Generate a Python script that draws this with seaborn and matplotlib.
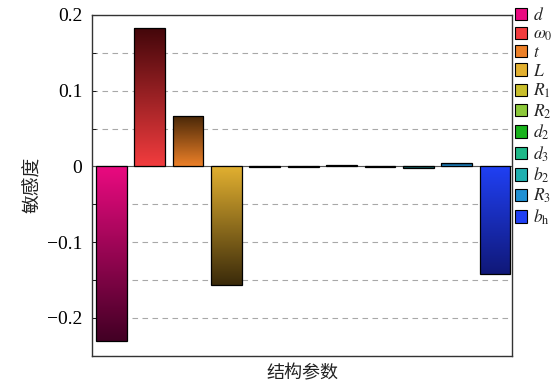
import numpy as np
import pandas as pd
import matplotlib
matplotlib.use("Agg")
import matplotlib.pyplot as plt
import matplotlib.colors as mcolors
from matplotlib.patches import Patch
from matplotlib.ticker import MultipleLocator, FuncFormatter
import seaborn as sns

# ---- data ----
params = ["d", "omega0", "t", "L", "R1", "R2", "d2", "d3", "b2", "R3", "bh"]
labels = [r"$d$", r"$\omega_0$", r"$t$", r"$L$", r"$R_1$", r"$R_2$",
          r"$d_2$", r"$d_3$", r"$b_2$", r"$R_3$", r"$b_\mathrm{h}$"]
sensitivity = [-0.231, 0.183, 0.066, -0.157, -0.001, -0.0005, 0.002, -0.0005, -0.002, 0.004, -0.142]
bright = ["#ea0a80", "#f23c3e", "#ec8028", "#e2b030", "#c8be2c", "#8cc83a",
          "#18b21c", "#1eb888", "#20b0b0", "#2090d4", "#2040f4"]
dark = ["#420024", "#42060a", "#4a2808", "#3a2a0a", "#3a380a", "#2a3a0a",
        "#083a08", "#083a2a", "#083a3a", "#082a44", "#101878"]

sns.set_theme(style="white")
plt.rcParams["font.family"] = ["Liberation Serif", "Noto Sans CJK SC"]
plt.rcParams["mathtext.fontset"] = "stix"
plt.rcParams["axes.unicode_minus"] = True

fig = plt.figure(figsize=(5.55, 3.83), dpi=100)
ax = fig.add_axes([0.166, 0.071, 0.757, 0.890])

df = pd.DataFrame({"param": params, "value": sensitivity})
sns.barplot(data=df, x="param", y="value", hue="param", palette=bright,
            legend=False, width=0.8, ax=ax, saturation=1)

# gradient fill of each bar: bright at zero, dark at the far end
for patch, c1, c2 in zip(ax.patches, bright, dark):
    x, y = patch.get_x(), patch.get_y()
    w, h = patch.get_width(), patch.get_height()
    cmap = mcolors.LinearSegmentedColormap.from_list("g", [c1, c2])
    grad = np.linspace(0, 1, 256).reshape(-1, 1)
    im = ax.imshow(grad, cmap=cmap, extent=[x, x + w, y, y + h], origin="lower",
                   aspect="auto", zorder=1.5, interpolation="bilinear")
    im.set_clip_path(patch)
    patch.set_facecolor("none")
    patch.set_edgecolor("black")
    patch.set_linewidth(0.9)
    patch.set_zorder(2)

ax.set_ylim(-0.25, 0.2)
ax.set_xlim(-0.5, 10.45)

ax.yaxis.set_major_locator(MultipleLocator(0.1))
ax.yaxis.set_minor_locator(MultipleLocator(0.05))
ax.yaxis.set_major_formatter(FuncFormatter(
    lambda v, p: "0" if abs(v) < 1e-9 else f"{v:.1f}".replace("-", "\u2212")))
ax.tick_params(axis="y", which="both", direction="in", left=True, labelsize=14,
               colors="black", pad=7, length=3, width=0.6)
ax.set_xticks([])
ax.set_axisbelow(True)
ax.grid(which="both", axis="y", linestyle=(0, (5, 4)), color="#a8a8a8", linewidth=0.8)
ax.axhline(0, color="#555555", linewidth=0.8, zorder=1)

for s in ax.spines.values():
    s.set_color("#333333")
    s.set_linewidth(1.0)

ax.set_xlabel("结构参数", fontsize=13, family=["Noto Sans CJK SC"], labelpad=6,
              color="#222222")
ax.set_ylabel("敏感度", fontsize=13.5, family=["Noto Sans CJK SC"], labelpad=3,
              color="#222222")

handles = [Patch(facecolor=c, edgecolor="black", linewidth=0.8) for c in bright]
fig.legend(handles, labels, loc="upper left", bbox_to_anchor=(0.925, 0.985),
           frameon=False, fontsize=12.5, handlelength=0.7, handleheight=0.7,
           handletextpad=0.35, labelspacing=0.12, borderpad=0.1, borderaxespad=0)

fig.savefig("out.png", dpi=100)
